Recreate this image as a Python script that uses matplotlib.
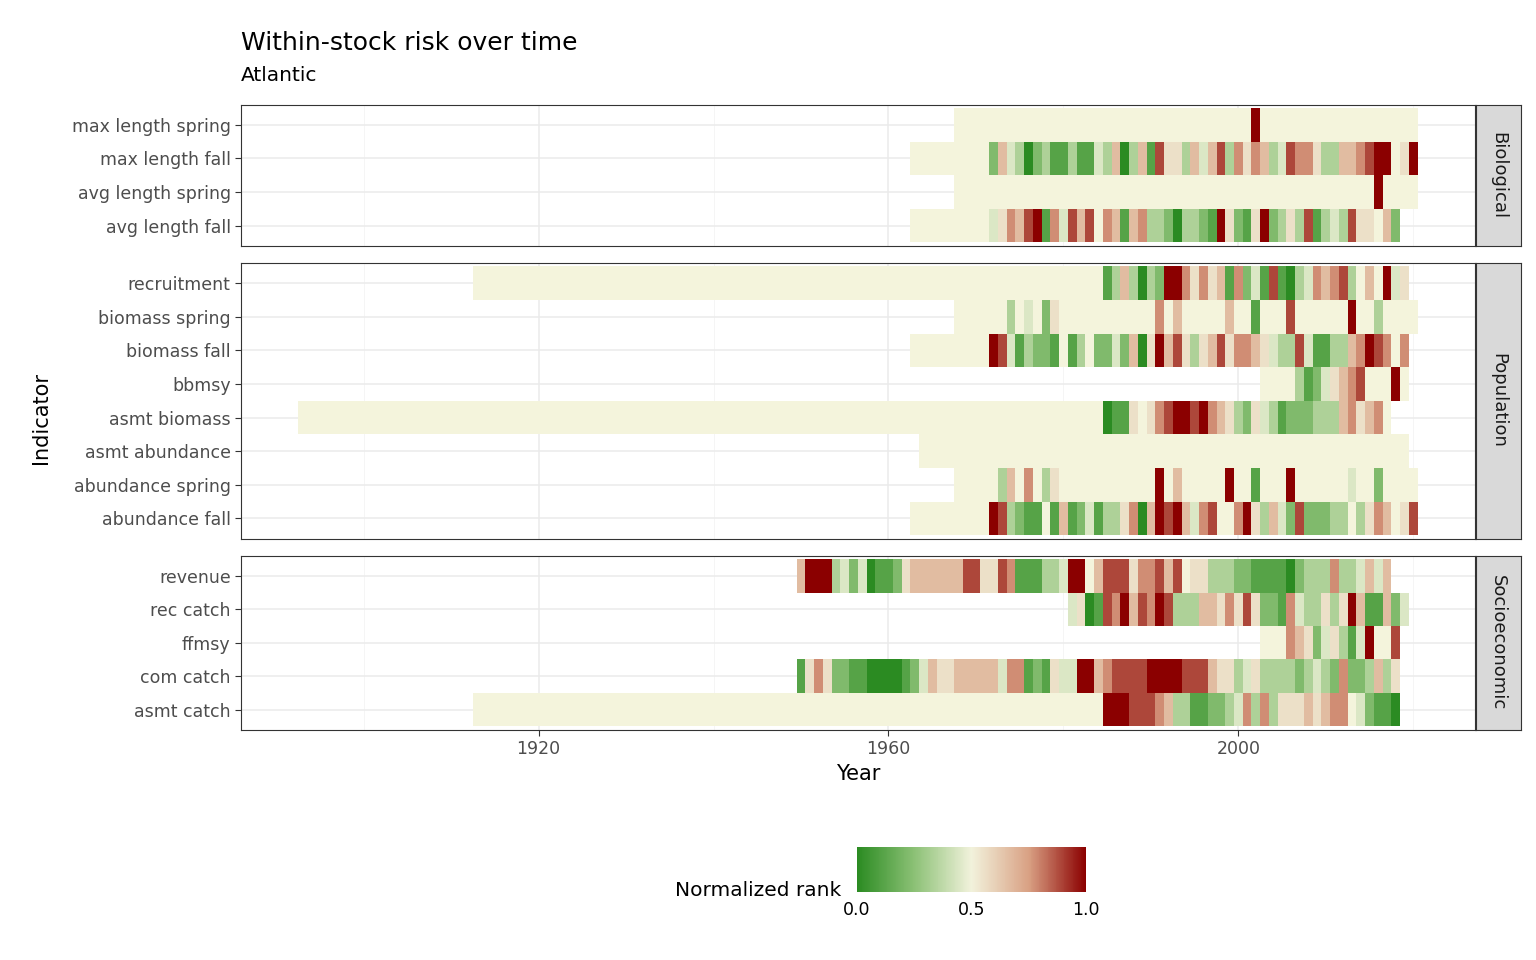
import matplotlib.pyplot as plt
import numpy as np
from matplotlib.colors import LinearSegmentedColormap
from matplotlib.cm import ScalarMappable
from matplotlib.colors import Normalize

# codes: digit d -> normalized rank d/9, '.' -> no change (beige)
bio_names = ["max length spring", "max length fall", "avg length spring", "avg length fall"]
bio_start = [1968, 1963, 1968, 1963]
bio_codes = [
    "." * 34 + "9" + "." * 18,
    "." * 9 + "2643023113114360361855364683757634877533667899.59",
    "." * 48 + "9" + "." * 4,
    "." * 9 + "457689174868.7616733203321952159235381343855.62",
]

pop_names = ["recruitment", "biomass spring", "biomass fall", "bbmsy",
             "asmt biomass", "asmt abundance", "abundance spring", "abundance fall"]
pop_start = [1913, 1968, 1963, 2003, 1893, 1964, 1968, 1963]
pop_codes = [
    "." * 72 + "13630329975756172418103476783.6.945"[:35],
    "......3.4.25...........7.6.....6..1...8......9..3....",
    "." * 9 + "98413221.13.2242605968535685776543384113367987.78"[:48],
    "....31245678...9.",
    "." * 92 + "0115.578998976532543122233367567.",
    "." * 56,
    ".....36.7.35...........9.6.....9..1...9......4..2....",
    "." * 9 + "983211.16124133570698964780.0".replace("0.0", "8..") + "7953642822233.3576.58",
]
pop_codes[7] = "." * 9 + "983211.1612413357069896478..7953642822233.3576.58"

soc_names = ["revenue", "rec catch", "ffmsy", "com catch", "asmt catch"]
soc_start = [1950, 1981, 2003, 1950, 1913]
soc_codes = [
    "699934240112566666688558711133499.6888577868.55333221111023337334646",
    "450187968798333665758522174335359611624",
    "...7652453149..8",
    "157522110000124655666664771215449967888899998886553453333234327223635",
    "." * 72 + "9998887633112234737355565677.42110",
]

cmap = LinearSegmentedColormap.from_list(
    "rank", ["#2B8B22", "#8CC176", "#F2F2DC", "#D9A184", "#8B0000"])
na_col = "#F4F4DC"

fig = plt.figure(figsize=(15.36, 9.6), dpi=100)
panels = [
    (bio_names, bio_start, bio_codes, "Biological", [0.744, 0.147]),
    (pop_names, pop_start, pop_codes, "Population", [0.439, 0.287]),
    (soc_names, soc_start, soc_codes, "Socioeconomic", [0.240, 0.181]),
]
axes = []
for names, starts, codes, strip, (bot, h) in panels:
    ax = fig.add_axes([0.157, bot, 0.803, h])
    axes.append(ax)
    n = len(names)
    for i, (s, c) in enumerate(zip(starts, codes)):
        y = n - 1 - i
        years = np.arange(s, s + len(c))
        cols = [na_col if ch == "." else cmap(int(ch) / 9) for ch in c]
        ax.barh(np.full(len(c), y), np.ones(len(c)), left=years - 0.5,
                height=1.0, color=cols, linewidth=0, zorder=2)
    ax.set_xlim(1886, 2027)
    ax.set_ylim(-0.6, n - 0.4)
    ax.set_yticks(range(n))
    ax.set_yticklabels(names[::-1], fontsize=12.5, color="#4D4D4D")
    ax.set_xticks([1920, 1960, 2000])
    ax.set_xticks([1900, 1940, 1980, 2020], minor=True)
    ax.grid(True, which="major", color="#EBEBEB", linewidth=1.1, zorder=0)
    ax.grid(True, which="minor", axis="x", color="#F4F4F4", linewidth=0.6, zorder=0)
    ax.set_axisbelow(True)
    ax.tick_params(axis="both", which="both", color="#333333", length=4)
    ax.tick_params(axis="x", which="minor", length=0)
    for sp in ax.spines.values():
        sp.set_color("#333333")
    sax = fig.add_axes([0.961, bot, 0.029, h])
    sax.set_facecolor("#D9D9D9")
    sax.set_xticks([]); sax.set_yticks([])
    for sp in sax.spines.values():
        sp.set_color("#333333")
    sax.text(0.5, 0.5, strip, rotation=-90, ha="center", va="center",
             fontsize=13, color="#1A1A1A", transform=sax.transAxes)

for ax in axes[:2]:
    ax.tick_params(axis="x", labelbottom=False, length=0)
axes[2].tick_params(axis="x", labelsize=12.5, labelcolor="#4D4D4D")
axes[2].set_xlabel("Year", fontsize=15)
fig.text(0.027, 0.565, "Indicator", rotation=90, ha="center", va="center", fontsize=15)

fig.text(0.157, 0.955, "Within-stock risk over time", fontsize=18, va="center")
fig.text(0.157, 0.921, "Atlantic", fontsize=14.5, va="center")

cax = fig.add_axes([0.558, 0.071, 0.149, 0.047])
cb = fig.colorbar(ScalarMappable(norm=Normalize(0, 1), cmap=cmap), cax=cax,
                  orientation="horizontal", ticks=[0, 0.5, 1])
cb.ax.set_xticklabels(["0.0", "0.5", "1.0"], fontsize=12.5)
cb.outline.set_visible(False)
cb.ax.tick_params(length=3, color="white")
fig.text(0.548, 0.072, "Normalized rank", ha="right", va="center", fontsize=14.5)

fig.savefig("out.png", dpi=100)
